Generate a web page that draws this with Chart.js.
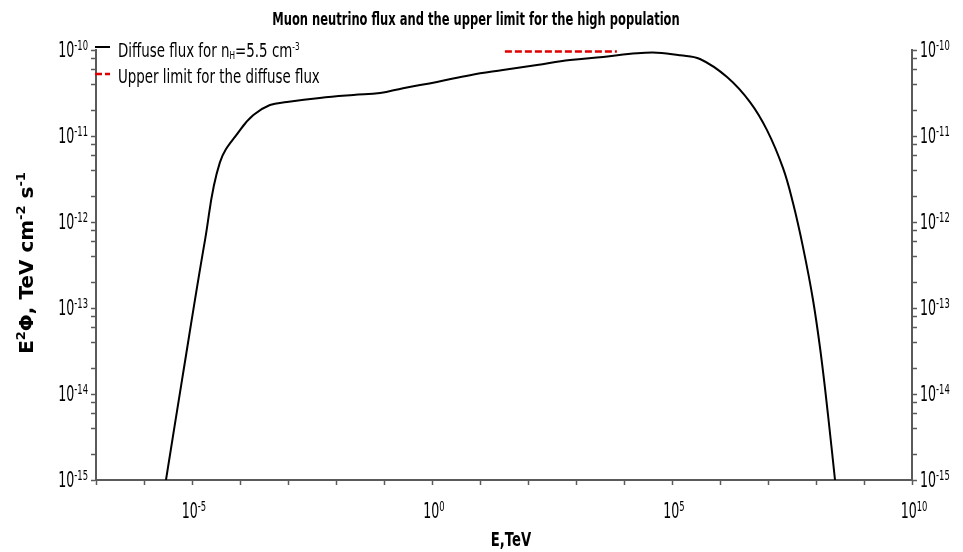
<!DOCTYPE html>
<html>
<head>
<meta charset="utf-8">
<script src="https://cdn.jsdelivr.net/npm/chart.js@4.4.1/dist/chart.umd.min.js"></script>
<style>
  html, body { margin: 0; padding: 0; background: #fff; }
</style>
</head>
<body>
<canvas id="fluxChart" width="963" height="552"></canvas>
<script>
// Diffuse muon neutrino flux: energy in TeV, E^2*Phi in TeV cm^-2 s^-1
const energy = [2.87e-6, 6.2e-6, 1.87e-5, 3.8e-5, 1.0e-4, 1.9e-4, 4.2e-4, 9.5e-4,
  4.6e-3, 2.3e-2, 8.3e-2, 0.25, 1.27, 6.2, 30, 154, 750, 3.66e3, 1.87e4, 4.87e4,
  1.47e5, 3.83e5, 1.4e6, 4.22e6, 9.53e6, 2.05e7, 3.32e7, 5.36e7, 8.67e7, 1.27e8,
  1.78e8, 2.49e8];
const flux = [1e-15, 1.46e-14, 6.2e-13, 4.9e-12, 1.17e-11, 1.75e-11, 2.29e-11, 2.48e-11,
  2.77e-11, 3.0e-11, 3.16e-11, 3.6e-11, 4.25e-11, 5.1e-11, 5.85e-11, 6.7e-11, 7.66e-11,
  8.3e-11, 9.15e-11, 9.3e-11, 8.7e-11, 7.86e-11, 4.85e-11, 2.48e-11, 1.17e-11, 4.25e-12,
  1.66e-12, 5.1e-13, 1.24e-13, 2.84e-14, 5.7e-15, 1e-15];

// upper limit on the diffuse flux
const limitEnergy = [33, 7.1e3];
const limitFlux = [9.6e-11, 9.6e-11];

// axis decades (powers of ten)
const xDecades = [-7, 10];
const yDecades = [-15, -10];
const xLabelled = [-5, 0, 5, 10];
const yLabelled = [-15, -14, -13, -12, -11, -10];
const yMinor = [2, 4, 6, 8];

const FONT = '"DejaVu Sans", Verdana, sans-serif';
const AXIS_COLOR = '#5a5a5a';

const pow10 = e => Number('1e' + e);

function decadeTicks(from, to) {
  const ticks = [];
  for (let e = from; e <= to; e++) ticks.push({ value: pow10(e), major: true });
  return ticks;
}

function fluxTicks() {
  const ticks = [];
  for (let e = yDecades[0]; e <= yDecades[1]; e++) {
    ticks.push({ value: pow10(e), major: true });
    if (e < yDecades[1]) yMinor.forEach(m => ticks.push({ value: m * pow10(e) }));
  }
  return ticks.sort((a, b) => a.value - b.value);
}

// draws text made of runs [text, size, rise] on one baseline, squeezed horizontally
function drawRuns(ctx, runs, x, y, opts) {
  const o = Object.assign({ weight: 'normal', squeeze: 1, align: 'left', rotate: 0, color: '#000' }, opts);
  ctx.save();
  ctx.fillStyle = o.color;
  ctx.textBaseline = 'alphabetic';
  ctx.textAlign = 'left';
  const widths = runs.map(r => {
    ctx.font = `${o.weight} ${r[1]}px ${FONT}`;
    return ctx.measureText(r[0]).width;
  });
  const total = widths.reduce((a, b) => a + b, 0);
  ctx.translate(x, y);
  if (o.rotate) ctx.rotate(o.rotate);
  ctx.scale(o.squeeze, 1);
  let cx = o.align === 'right' ? -total : o.align === 'center' ? -total / 2 : 0;
  runs.forEach((r, i) => {
    ctx.font = `${o.weight} ${r[1]}px ${FONT}`;
    ctx.fillText(r[0], cx, -r[2]);
    cx += widths[i];
  });
  ctx.restore();
}

const power = e => [['10', 21, 0], [String(e), 14, 7]];

const textPlugin = {
  id: 'fluxText',
  afterDraw(chart) {
    const ctx = chart.ctx;
    const { x, y } = chart.scales;

    // tick labels
    yLabelled.forEach(e => {
      const py = y.getPixelForValue(pow10(e));
      drawRuns(ctx, power(e), 88, py + 7, { align: 'right', squeeze: 0.6 });
      drawRuns(ctx, power(e), 920, py + 7, { align: 'left', squeeze: 0.6 });
    });
    xLabelled.forEach(e => {
      const px = x.getPixelForValue(pow10(e));
      drawRuns(ctx, power(e), px + 2, 518, { align: 'center', squeeze: 0.6 });
    });

    // title and axis titles
    drawRuns(ctx, [['Muon neutrino flux and the upper limit for the high population', 18, 0]],
      476, 25, { weight: 'bold', align: 'center', squeeze: 0.64 });
    drawRuns(ctx, [['E,TeV', 20, 0]], 511, 546, { weight: 'bold', align: 'center', squeeze: 0.66 });
    drawRuns(ctx, [['E', 20, 0], ['2', 13, 8], ['\u03A6, TeV cm', 20, 0], ['-2', 13, 8], [' s', 20, 0], ['-1', 13, 8]],
      33, 263, { weight: 'bold', align: 'center', rotate: -Math.PI / 2 });

    // legend
    ctx.save();
    ctx.lineWidth = 2;
    ctx.strokeStyle = '#000';
    ctx.beginPath();
    ctx.moveTo(95, 47);
    ctx.lineTo(110, 47);
    ctx.stroke();
    ctx.strokeStyle = '#e00000';
    ctx.lineWidth = 2.5;
    ctx.setLineDash([7, 3]);
    ctx.beginPath();
    ctx.moveTo(95, 74);
    ctx.lineTo(110, 74);
    ctx.stroke();
    ctx.restore();
    drawRuns(ctx, [['Diffuse flux for n', 20, 0], ['H', 11, -2], ['=5.5 cm', 20, 0], ['-3', 11, 7]],
      118, 56.5, { squeeze: 0.67 });
    drawRuns(ctx, [['Upper limit for the diffuse flux', 20, 0]], 118, 83, { squeeze: 0.67 });
  }
};

const tickGrid = {
  display: true,
  drawOnChartArea: false,
  drawTicks: true,
  tickLength: 5,
  tickWidth: 1.5,
  tickColor: AXIS_COLOR,
  color: AXIS_COLOR
};

const fluxChart = new Chart(document.getElementById('fluxChart'), {
  type: 'line',
  data: {
    datasets: [{
      label: 'Diffuse flux',
      data: energy.map((e, i) => ({ x: e, y: flux[i] })),
      borderColor: '#000',
      borderWidth: 2,
      pointRadius: 0,
      tension: 0.4,
      fill: false
    }, {
      label: 'Upper limit for the diffuse flux',
      data: limitEnergy.map((e, i) => ({ x: e, y: limitFlux[i] })),
      borderColor: '#e00000',
      borderWidth: 2.5,
      borderDash: [7, 3],
      pointRadius: 0,
      fill: false
    }]
  },
  options: {
    responsive: false,
    animation: false,
    events: [],
    layout: { padding: { top: 50, left: 0, right: 0, bottom: 0 } },
    plugins: {
      legend: { display: false },
      title: { display: false },
      tooltip: { enabled: false }
    },
    scales: {
      x: {
        type: 'logarithmic',
        position: 'bottom',
        min: pow10(xDecades[0]),
        max: pow10(xDecades[1]),
        afterBuildTicks: scale => { scale.ticks = decadeTicks(xDecades[0], xDecades[1]); },
        afterFit: scale => { scale.height = 72; },
        ticks: { display: false, autoSkip: false },
        grid: tickGrid,
        border: { display: true, color: AXIS_COLOR, width: 2 }
      },
      y: {
        type: 'logarithmic',
        position: 'left',
        min: pow10(yDecades[0]),
        max: pow10(yDecades[1]),
        afterBuildTicks: scale => { scale.ticks = fluxTicks(); },
        afterFit: scale => { scale.width = 96; },
        ticks: { display: false, autoSkip: false },
        grid: tickGrid,
        border: { display: true, color: AXIS_COLOR, width: 2 }
      },
      y2: {
        type: 'logarithmic',
        position: 'right',
        min: pow10(yDecades[0]),
        max: pow10(yDecades[1]),
        afterBuildTicks: scale => { scale.ticks = fluxTicks(); },
        afterFit: scale => { scale.width = 51; },
        ticks: { display: false, autoSkip: false },
        grid: tickGrid,
        border: { display: true, color: AXIS_COLOR, width: 2 }
      }
    }
  },
  plugins: [textPlugin]
});
</script>
</body>
</html>
